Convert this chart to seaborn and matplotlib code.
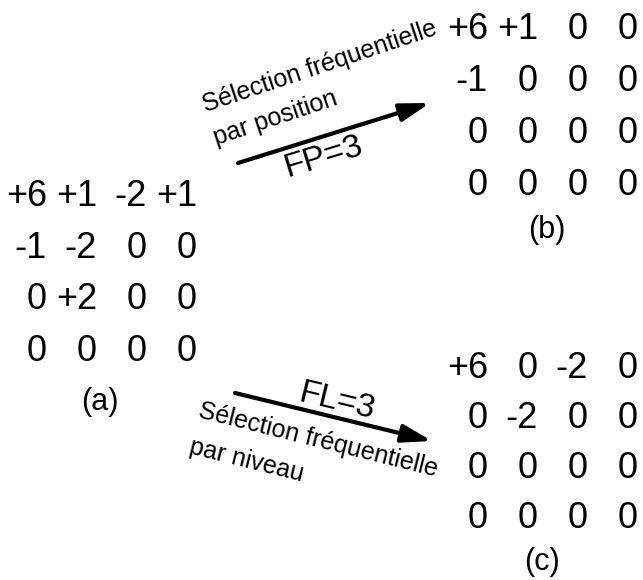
import numpy as np
import matplotlib
matplotlib.use("Agg")
import matplotlib.pyplot as plt
from matplotlib import font_manager
from matplotlib.colors import ListedColormap
import seaborn as sns


# =========================
# 1. données
# =========================
# matrice de départ (a)
mat_a = [[6, 1, -2, 1],
         [-1, -2, 0, 0],
         [0, 2, 0, 0],
         [0, 0, 0, 0]]

# sélection par position, FP=3 (b)
mat_b = [[6, 1, 0, 0],
         [-1, 0, 0, 0],
         [0, 0, 0, 0],
         [0, 0, 0, 0]]

# sélection par niveau, FL=3 (c)
mat_c = [[6, 0, -2, 0],
         [0, -2, 0, 0],
         [0, 0, 0, 0],
         [0, 0, 0, 0]]

panel_labels = ["(a)", "(b)", "(c)"]
fp_label = "FP=3"
fl_label = "FL=3"
sel_text = "Sélection fréquentielle"
pos_text = "par position"
niv_text = "par niveau"

W, H = 643, 580

names = {f.name for f in font_manager.fontManager.ttflist}
if "Liberation Sans Narrow" in names:
    NUM_FONT, NUM_SIZE = "Liberation Sans Narrow", 29
else:
    NUM_FONT, NUM_SIZE = "Liberation Sans", 26
TXT_FONT = "Liberation Sans"


def fmt(v):
    return "0" if v == 0 else f"{v:+d}"


# =========================
# 2. une matrice = un heatmap blanc annoté
# =========================
def draw_matrix(fig, mat, left, top, width, height):
    ax = fig.add_axes([left / W, 1 - (top + height) / H, width / W, height / H])
    vals = np.array(mat)
    labels = np.vectorize(fmt)(vals)
    sns.heatmap(vals, ax=ax, cmap=ListedColormap(["white"]), cbar=False,
                annot=labels, fmt="", linewidths=0,
                annot_kws=dict(color="black", fontsize=NUM_SIZE, family=NUM_FONT,
                               ha="right", va="center_baseline"))
    ax.set_axis_off()
    return ax


def main():
    sns.set_theme(style="white")
    plt.rcParams["font.family"] = [TXT_FONT, "DejaVu Sans"]
    plt.rcParams["text.color"] = "black"

    fig = plt.figure(figsize=(W / 100, H / 100), dpi=100)
    fig.patch.set_facecolor("white")

    draw_matrix(fig, mat_a, 22, 167, 200, 206)
    draw_matrix(fig, mat_b, 463, -1, 200, 209)
    draw_matrix(fig, mat_c, 463, 340, 200, 200)

    # calque pour flèches et textes, en pixels
    ov = fig.add_axes([0, 0, 1, 1], facecolor="none")
    ov.set_xlim(0, W)
    ov.set_ylim(H, 0)
    ov.set_axis_off()

    ov.text(100, 402, panel_labels[0], fontsize=22, ha="center", va="center")
    ov.text(547, 230, panel_labels[1], fontsize=22, ha="center", va="center")
    ov.text(542, 562, panel_labels[2], fontsize=22, ha="center", va="center")

    arrow = dict(arrowstyle="-|>,head_length=1.0,head_width=0.3", lw=3,
                 color="black", mutation_scale=18, shrinkA=0, shrinkB=0)
    ov.annotate("", xy=(430, 103), xytext=(238, 163), arrowprops=arrow)
    ov.annotate("", xy=(432, 441), xytext=(235, 393), arrowprops=arrow)

    # flèche du haut
    ov.text(320, 67, sel_text, fontsize=18, rotation=18.5,
            ha="center", va="center", rotation_mode="anchor")
    ov.text(275, 118, pos_text, fontsize=18, rotation=18.5,
            ha="center", va="center", rotation_mode="anchor")
    ov.text(323, 157, fp_label, fontsize=24, rotation=17,
            ha="center", va="center", rotation_mode="anchor")

    # flèche du bas
    ov.text(337, 402, fl_label, fontsize=24, rotation=-13.5,
            ha="center", va="center", rotation_mode="anchor")
    ov.text(318, 440, sel_text, fontsize=18, rotation=-14,
            ha="center", va="center", rotation_mode="anchor")
    ov.text(247, 460, niv_text, fontsize=18, rotation=-14,
            ha="center", va="center", rotation_mode="anchor")

    fig.savefig("out.png", dpi=100, facecolor="white")


if __name__ == "__main__":
    main()
